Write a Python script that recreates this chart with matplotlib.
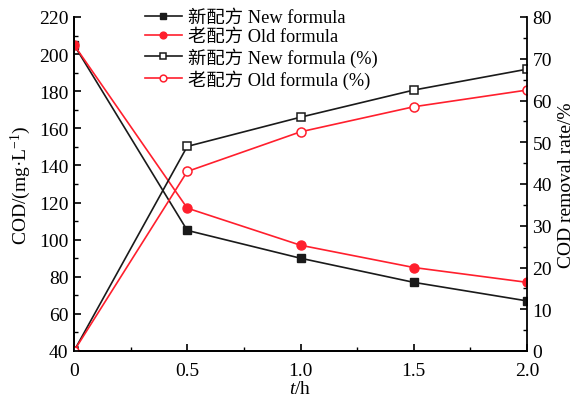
import matplotlib
matplotlib.use("Agg")
import matplotlib.pyplot as plt
from matplotlib.ticker import MultipleLocator

plt.rcParams['font.family'] = ['Liberation Serif', 'Noto Sans CJK SC']
plt.rcParams['mathtext.fontset'] = 'custom'
plt.rcParams['mathtext.rm'] = 'Liberation Serif'
plt.rcParams['mathtext.it'] = 'Liberation Serif:italic'

# Sampling times (h)
t = [0, 0.5, 1.0, 1.5, 2.0]

# COD concentration (mg/L)
cod_new = [205, 105, 90, 77, 67]
cod_old = [205, 117, 97, 85, 77]

# COD removal rate (%)
rate_new = [0, 49, 56, 62.5, 67.5]
rate_old = [0, 43, 52.5, 58.5, 62.5]

labels = ['新配方 New formula', '老配方 Old formula',
          '新配方 New formula (%)', '老配方 Old formula (%)']

black = '#1a1a1a'
red = '#ff1f2d'

fig = plt.figure(figsize=(5.8, 4.02), dpi=100)
ax = fig.add_axes([74 / 580, 50 / 402, 453 / 580, 334 / 402])
ax2 = ax.twinx()

l1, = ax.plot(t, cod_new, color=black, lw=1.2, marker='s', ms=5.5,
              mfc=black, mec=black)
l2, = ax.plot(t, cod_old, color=red, lw=1.2, marker='o', ms=6.5,
              mfc=red, mec=red)
l3, = ax2.plot(t, rate_new, color=black, lw=1.2, marker='s', ms=5.5,
               mfc='white', mec=black, mew=1.1)
l4, = ax2.plot(t, rate_old, color=red, lw=1.2, marker='o', ms=6.5,
               mfc='white', mec=red, mew=1.1)

ax.set_xlim(0, 2.0)
ax.set_ylim(40, 220)
ax2.set_ylim(0, 80)

ax.xaxis.set_major_locator(MultipleLocator(0.5))
ax.xaxis.set_minor_locator(MultipleLocator(0.25))
ax.yaxis.set_major_locator(MultipleLocator(20))
ax.yaxis.set_minor_locator(MultipleLocator(10))
ax2.yaxis.set_major_locator(MultipleLocator(10))
ax2.yaxis.set_minor_locator(MultipleLocator(5))

ax.set_xticks(t)
ax.set_xticklabels(['0', '0.5', '1.0', '1.5', '2.0'])

for a in (ax, ax2):
    a.spines['top'].set_visible(False)
    for s in a.spines.values():
        s.set_linewidth(1.3)
ax.spines['right'].set_visible(False)

ax.tick_params(axis='both', which='major', direction='in', length=5,
               width=1.2, labelsize=14, pad=4)
ax.tick_params(axis='both', which='minor', direction='in', length=3,
               width=1.0)
ax.tick_params(axis='x', which='major', pad=8)
ax.tick_params(axis='x', which='both', top=False)
ax.tick_params(axis='y', which='both', right=False)
ax2.tick_params(axis='y', which='major', direction='in', length=5,
                width=1.2, labelsize=14, pad=4)
ax2.tick_params(axis='y', which='minor', direction='in', length=3,
                width=1.0)

ax.set_xlabel('$t$/h', fontsize=14, labelpad=1)
ax.set_ylabel('COD/(mg·L$^{-1}$)', fontsize=14, labelpad=4)
ax2.set_ylabel('COD removal rate/%', fontsize=14, labelpad=4)

fig.legend([l1, l2, l3, l4], labels, loc='upper left',
           bbox_to_anchor=(145 / 580, 1 - 10 / 402), frameon=False,
           fontsize=13.2, handlelength=2.0, handletextpad=0.35,
           labelspacing=0.12, borderpad=0, borderaxespad=0,
           markerscale=0.75)

fig.savefig('out.png', dpi=100)
